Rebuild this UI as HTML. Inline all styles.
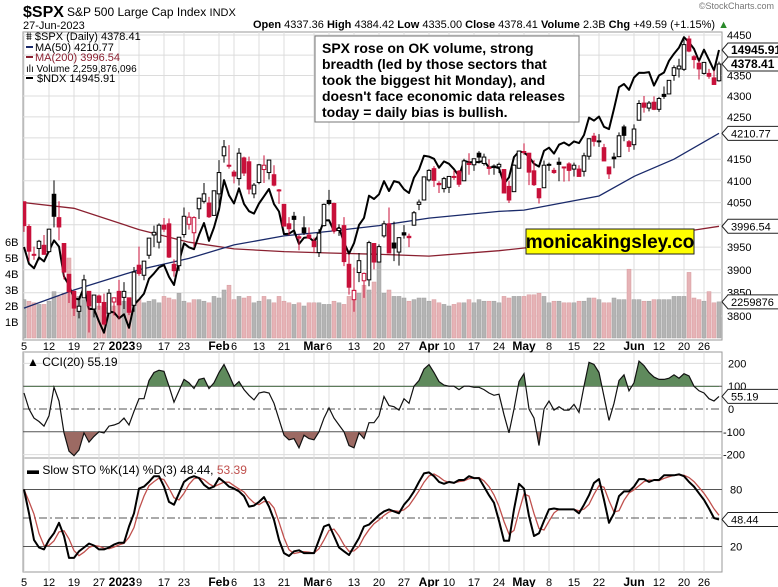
<!DOCTYPE html>
<html><head><meta charset="utf-8"><style>
html,body{margin:0;padding:0;background:#fff;}
svg{display:block;font-family:"Liberation Sans",sans-serif;}
</style></head><body>
<svg id="chart" width="778" height="587" viewBox="0 0 778 587" xmlns="http://www.w3.org/2000/svg">
<defs>
<clipPath id="mainClip"><rect x="23" y="32" width="699" height="308"/></clipPath>
<clipPath id="cciUp"><rect x="23" y="352" width="699" height="35"/></clipPath>
<clipPath id="cciDn"><rect x="23" y="432" width="699" height="26"/></clipPath>
<clipPath id="stoClip"><rect x="23" y="458" width="699" height="114"/></clipPath>
</defs>
<g id="grid"></g>
<g id="vol" clip-path="url(#mainClip)"></g>
<g id="main" clip-path="url(#mainClip)"></g>
<g id="cci"></g>
<g id="sto"></g>
<g id="axes"></g>

<text x="23" y="17" font-size="16" font-weight="bold">$SPX</text>
<text x="67" y="16" font-size="12">S&amp;P 500 Large Cap Index <tspan font-size="11">INDX</tspan></text>
<text x="23" y="29" font-size="11">27-Jun-2023</text>
<text x="729" y="28" font-size="11" text-anchor="end"><tspan font-weight="bold">Open</tspan> 4337.36  <tspan font-weight="bold">High</tspan> 4384.42  <tspan font-weight="bold">Low</tspan> 4335.00  <tspan font-weight="bold">Close</tspan> 4378.41  <tspan font-weight="bold">Volume</tspan> 2.3B  <tspan font-weight="bold">Chg</tspan> +49.59 (+1.15%) <tspan fill="#2a8a2a">▲</tspan></text>
<text x="774" y="9" font-size="9" fill="#777" text-anchor="end">©StockCharts.com</text>

<g font-size="11">
<text x="26" y="40">⩩ $SPX (Daily) 4378.41</text>
<line x1="26" y1="47" x2="33" y2="47" stroke="#1a2a6a" stroke-width="2"/><text x="35" y="51">MA(50) 4210.77</text>
<line x1="26" y1="57" x2="33" y2="57" stroke="#8a2030" stroke-width="2"/><text x="35" y="61" fill="#8a2030">MA(200) 3996.54</text>
<text x="26" y="72" font-size="10">ılı Volume 2,259,876,096</text>
<line x1="26" y1="78" x2="33" y2="78" stroke="#000" stroke-width="2"/><text x="37" y="82">$NDX 14945.91</text>
</g>

<g>
<rect x="315" y="36" width="264" height="86" fill="#fff" stroke="#777"/>
<g font-size="14" font-weight="bold">
<text x="322" y="53">SPX rose on OK volume, strong</text>
<text x="322" y="69">breadth (led by those sectors that</text>
<text x="322" y="85">took the biggest hit Monday), and</text>
<text x="322" y="101">doesn't face economic data releases</text>
<text x="322" y="117">today = daily bias is bullish.</text>
</g></g>
<g>
<rect x="526" y="229" width="168" height="25" fill="#ffff00" stroke="#222"/>
<text x="610" y="248" font-size="19" font-weight="bold" text-anchor="middle">monicakingsley.co</text>
</g>
</svg>
<script>
const NS="http://www.w3.org/2000/svg";
// ---- data ----
const opens=[4052,3996,3934,3947,3954,3940,4069,4016,3958,3890,3853,3810,3839,3853,3815,3843,3829,3806,3830,
3853,3840,3839,3823,3910,3888,3932,3977,3961,3999,4002,3912,3909,3978,4001,3982,4036,4053,4049,4021,
4070,4158,4136,4120,4105,4153,4144,4070,4096,4126,4119,4114,4077,4046,4002,4019,3973,3993,3977,
3963,3938,3998,4055,4048,3987,3998,3912,3835,3894,3876,3878,3958,3917,3975,4002,3959,3939,3982,3974,3999,4046,4056,
4102,4128,4094,4082,4085,4110,4122,4100,4140,4137,4164,4140,4131,4133,4132,4126,4087,4075,4129,
4166,4164,4123,4082,4084,4136,4124,4143,4132,4139,4127,4127,4122,4157,4204,4191,4177,4132,4155,4156,4226,4191,
4184,4242,4283,4271,4285,4268,4304,4305,4350,4366,4365,4440,4396,4380,4355,4355,4344,4337];
const highs=[4052,4001,3951,3966,3977,3991,4101,4053,3958,3890,3854,3839,3889,3853,3845,3846,3848,3858,3840,
3878,3873,3839,3906,3951,3919,3970,3998,4003,4015,4014,3923,3972,4039,4028,4019,4061,4095,4063,4077,
4148,4195,4183,4125,4176,4156,4156,4095,4139,4159,4148,4136,4081,4046,4017,4029,3978,4019,3994,
3971,3990,4048,4079,4050,4001,4017,3934,3905,3937,3894,3964,3959,3956,4009,4039,4007,3972,3999,3980,4031,4057,4110,
4127,4134,4099,4109,4110,4124,4125,4151,4164,4151,4169,4163,4150,4138,4142,4126,4100,4138,4170,
4187,4165,4148,4082,4147,4142,4130,4154,4133,4143,4142,4136,4165,4199,4212,4209,4186,4132,4165,4213,4231,4195,
4232,4290,4300,4288,4299,4298,4323,4339,4375,4391,4439,4448,4400,4387,4383,4366,4363,4384];
const lows=[3984,3919,3922,3921,3933,3937,3994,3965,3879,3828,3800,3795,3839,3765,3797,3813,3780,3806,3801,
3794,3815,3802,3809,3887,3877,3924,3950,3947,3984,3926,3885,3897,3971,3989,3950,4013,4048,4015,4021,
4038,4142,4128,4094,4089,4111,4069,4060,4092,4095,4103,4087,4047,3997,3976,3979,3943,3977,3968,
3939,3928,3996,4044,3980,3975,3908,3846,3809,3873,3839,3864,3901,3917,3971,3936,3919,3909,3969,3950,3998,4033,4056,
4098,4086,4072,4073,4072,4102,4086,4100,4114,4123,4140,4135,4114,4114,4118,4072,4049,4075,4128,
4160,4090,4088,4048,4084,4123,4116,4099,4098,4099,4110,4110,4110,4149,4180,4179,4146,4104,4129,4155,4192,4167,
4172,4241,4260,4263,4266,4262,4293,4305,4337,4345,4361,4407,4367,4340,4352,4342,4328,4335];
const closes=[3998,3941,3933,3963,3934,3990,4019,3995,3895,3852,3817,3821,3878,3822,3845,3829,3783,3849,3839,
3824,3853,3808,3895,3892,3919,3970,3983,3999,3990,3928,3898,3972,4019,4017,4016,4060,4070,4018,4077,
4119,4179,4136,4111,4164,4118,4081,4090,4137,4136,4148,4090,4079,3997,3991,4012,3970,3982,3970,
3951,3981,4046,4048,3986,3992,3918,3862,3855,3920,3892,3960,3917,3951,4002,3937,3948,3971,3977,3971,4027,4051,4109,
4124,4101,4091,4105,4110,4109,4092,4146,4138,4151,4155,4155,4130,4134,4138,4072,4056,4136,4169,
4168,4120,4091,4061,4136,4138,4119,4138,4131,4124,4136,4110,4158,4198,4192,4193,4146,4116,4151,4205,4206,4180,
4221,4282,4273,4283,4268,4294,4299,4338,4369,4373,4426,4410,4389,4366,4382,4348,4328,4378];
const ndx=[11825,11591,11529,11679,11624,11772,11918,11831,11417,11298,11125,11111,11271,10984,10985,10822,10679,10952,10940,
10862,10915,10742,11040,11108,11188,11388,11460,11541,11575,11413,11302,11620,11877,11820,11794,11996,12167,11911,12102,
12361,12804,12574,12452,12680,12447,12339,12304,12452,12560,12669,12443,12334,12008,12013,12060,11867,11955,11962,
11901,12004,12204,12207,12049,12100,11890,11731,11878,12138,12241,12568,12520,12590,12789,12639,12788,12767,12665,12609,12842,12966,13181,
13167,13132,12994,13091,13055,12971,12863,13101,13080,13080,13083,13101,12995,13008,12986,12749,12845,13160,13246,
13233,13164,13055,13011,13258,13306,13214,13354,13389,13341,13407,13380,13509,13792,13742,13810,13641,13604,13939,14299,14354,14254,
14463,14547,14545,14558,14326,14499,14551,14755,14880,14989,15176,15083,14966,14751,14952,14771,14587,14946];
const volumes=[2.4,2.3,2.2,2.1,2.1,2.3,2.9,2.6,2.8,5.0,2.6,2.6,2.4,2.3,1.9,2.0,1.9,1.9,2.0,
2.2,2.3,2.2,2.5,2.4,2.2,2.3,2.4,2.2,2.6,2.5,2.4,2.8,2.3,2.2,2.4,2.4,2.3,2.2,2.6,
2.5,3.0,3.3,2.4,2.6,2.5,2.6,2.2,2.3,2.6,2.4,2.2,2.6,2.3,2.2,2.1,2.2,2.0,2.2,
2.2,2.2,2.1,2.1,2.3,2.2,2.1,2.6,3.0,2.8,3.3,3.0,3.5,5.6,2.8,3.0,2.6,2.6,2.5,2.3,2.4,2.5,2.5,
2.3,2.4,2.2,2.1,2.0,2.1,2.2,2.2,2.4,2.2,2.4,2.3,2.3,2.3,2.2,2.6,2.5,2.6,2.6,
2.6,2.7,2.7,2.8,2.6,2.2,2.3,2.3,2.2,2.2,2.2,2.3,2.3,2.5,2.5,2.4,2.2,2.2,2.5,2.4,2.4,4.3,
2.4,2.4,2.3,2.3,2.4,2.4,2.4,2.4,2.6,2.6,2.6,4.1,2.5,2.4,2.3,2.9,2.2,2.26];
const ma50Idx=[0,10,23,33,42,52,61,71,81,95,100,115,122,130,139];
const ma50Val=[3817,3856,3900,3925,3955,3975,3985,3998,4015,4030,4033,4065,4110,4150,4210.77];
const ma200Idx=[0,10,23,33,42,52,61,71,81,95,110,125,134,139];
const ma200Val=[4050,4037,3989,3961,3946,3940,3937,3934,3930,3942,3960,3978,3988,3996.54];
const cciVals=[70,0,-40,-55,-75,-30,95,35,-105,-185,-205,-180,-105,-145,-120,-100,-105,-75,-70,-62,-40,-70,-10,45,45,125,160,170,165,100,
30,80,130,115,90,130,135,90,115,160,195,150,100,120,85,60,40,70,75,70,25,-45,-115,-135,-130,-170,-115,-130,-135,-100,
-40,5,-40,-70,-100,-160,-170,-105,-130,-60,-60,-30,55,15,10,-5,45,25,100,125,175,195,160,120,105,100,100,85,100,100,
95,95,85,70,60,65,-25,-105,0,120,155,0,-40,-160,0,35,-5,10,-5,-5,20,-15,100,205,195,160,55,-50,25,125,
150,80,115,210,190,160,140,130,130,135,150,135,155,145,100,80,70,45,35,55.19];
const stoK=[80,55,27,19,17,27,34,45,31,8,8,15,19,23,21,17,17,19,22,24,24,41,55,81,83,88,94,94,83,67,
64,76,88,92,94,92,85,81,83,92,88,83,81,78,73,62,63,67,72,62,48,27,13,10,15,16,13,13,13,27,
41,43,31,19,15,11,20,29,41,43,48,53,57,59,57,55,64,70,78,88,97,98,94,88,86,88,87,90,90,94,
92,92,83,74,66,47,26,26,59,86,81,52,31,34,47,59,60,59,59,59,59,55,64,74,87,91,69,45,55,73,
78,78,83,91,91,88,90,90,95,95,95,96,94,88,83,76,69,60,50,48.44];
const tickPrices=[4450,4400,4350,4300,4250,4200,4150,4100,4050,4000,3950,3900,3850,3800];
const cciTicks=[200,100,0,-100,-200];
const stoTicks=[80,20];
const volTicks=[1,2,3,4,5,6];
const dateIdx=[0,5,10,15,19,23,28,32,39,42,47,52,58,61,66,71,76,81,85,90,95,100,105,110,115,122,127,132,136];
const dateLabels=["5","12","19","27","2023","9","17","23","Feb","6","13","21","Mar","6","13","20","27","Apr","10","17","24","May","8","15","22","Jun","12","20","26"];

// ---- scales ----
const X=i=>24+5*i;
const PY=p=>35+(Math.log(4450)-Math.log(p))*1779.6;
const NY=v=>50+(Math.log(14946)-Math.log(v))*841;
const VY=v=>338-v*16;
const CY=v=>409-v*0.228;
const SY=v=>518-(v-50)*0.95;

function mk(parent,tag,attrs){const e=document.createElementNS(NS,tag);for(const k in attrs)e.setAttribute(k,attrs[k]);parent.appendChild(e);return e;}
const G=id=>document.getElementById(id);
const grid=G('grid'),vol=G('vol'),main=G('main'),cci=G('cci'),sto=G('sto'),axes=G('axes');

[[32,340],[352,458],[458,572]].forEach(([a,b])=>{
  const r=mk(grid,'rect',{x:23,y:a,width:699,height:b-a,fill:'#fff',stroke:'#9a9a9a','stroke-width':1});
  
  
});
dateIdx.forEach(i=>{
  [[32,340],[352,458],[458,572]].forEach(([a,b])=>{
    const l=mk(grid,'line',{x1:X(i),x2:X(i),y1:a,y2:b,stroke:'#dcdcdc'});
    
    
  });
});
tickPrices.forEach(p=>{
  const l=mk(grid,'line',{x1:23,x2:722,y1:PY(p),y2:PY(p),stroke:'#dcdcdc'});
  
  
  if(p!==4400&&p!==4200&&p!==4000){
    const t=mk(axes,'text',{x:727,y:PY(p)+4,'font-size':11});t.textContent=p;
    
    
  }
});
volTicks.forEach(v=>{
  const t=mk(axes,'text',{x:5,y:VY(v)+4,'font-size':11});t.textContent=v+'B';
  
  
});
[346,582].forEach(yy=>{
  dateIdx.forEach((i,k)=>{
    const lab=dateLabels[k];const bold=/[A-Za-z]/.test(lab)||lab==='2023';
    const t=mk(axes,'text',{x:X(i)+(lab==='2023'?3:0),y:yy+4,'font-size':bold?12:11,'font-weight':bold?'bold':'normal','text-anchor':'middle'});
    t.textContent=lab;
    
    
  });
});

volumes.forEach((v,i)=>{
  const down=i>0&&closes[i]<closes[i-1];
  const r=mk(vol,'rect',{x:X(i)-2,y:VY(v),width:4,height:338-VY(v),fill:down?'#e6b3b6':'#b4b4b4',stroke:down?'#d89a9e':'#a0a0a0','stroke-width':0.5});
  
  
});

function poly(parent,xs,ys,attrs,name){
  const d=xs.map((x,k)=>(k?'L':'M')+x.toFixed(1)+','+ys[k].toFixed(1)).join('');
  const p=mk(parent,'path',Object.assign({d:d,fill:'none'},attrs));
  
  
  return p;
}
poly(main,ma200Idx.map(X),ma200Val.map(PY),{stroke:'#8a2030','stroke-width':1.3},'ma200-line');
poly(main,ma50Idx.map(X),ma50Val.map(PY),{stroke:'#1a2a6a','stroke-width':1.3},'ma50-line');
poly(main,ndx.map((v,i)=>X(i)),ndx.map(NY),{stroke:'#000','stroke-width':2,'stroke-linejoin':'round'},'ndx-line');
closes.forEach((c,i)=>{
  const o=opens[i];const up=i===0?c>=o:c>=closes[i-1];
  const col=up?'#000':'#c8103a';
  const w=mk(main,'line',{x1:X(i),x2:X(i),y1:PY(highs[i]),y2:PY(lows[i]),stroke:col,'stroke-width':1});
  
  
  const top=PY(Math.max(o,c)),bot=PY(Math.min(o,c));
  const b=mk(main,'rect',{x:X(i)-1.8,y:top,width:3.6,height:Math.max(1,bot-top),fill:c>=o?'#fff':col,stroke:col,'stroke-width':1});
  
  
});

cciTicks.forEach(v=>{
  const solid=(v===100||v===-100);
  const l=mk(cci,'line',{x1:23,x2:722,y1:CY(v),y2:CY(v),stroke:solid?'#555':(v===0?'#555':'#dcdcdc'),'stroke-dasharray':v===0?'8,3,2,3':'none'});
  
  
  const t=mk(axes,'text',{x:v<0?723:728,y:CY(v)+4,'font-size':11});t.textContent=v;
  
  
});
const cx=cciVals.map((v,i)=>X(i)),cyv=cciVals.map(CY);
const pts=cx.map((x,k)=>x.toFixed(1)+','+cyv[k].toFixed(1)).join(' ');
const up=mk(cci,'polygon',{points:X(0)+','+CY(100)+' '+pts+' '+X(cciVals.length-1)+','+CY(100),fill:'#5f8a5c',stroke:'none','clip-path':'url(#cciUp)'});


const dn=mk(cci,'polygon',{points:X(0)+','+CY(-100)+' '+pts+' '+X(cciVals.length-1)+','+CY(-100),fill:'#9c6a63',stroke:'none','clip-path':'url(#cciDn)'});


poly(cci,cx,cyv,{stroke:'#111','stroke-width':1.2},'cci-line');

[80,50,20].forEach(v=>{
  const l=mk(sto,'line',{x1:23,x2:722,y1:SY(v),y2:SY(v),stroke:'#555','stroke-dasharray':v===50?'8,3,2,3':'none'});
  
  
});
stoTicks.forEach(v=>{
  const t=mk(axes,'text',{x:730,y:SY(v)+4,'font-size':11});t.textContent=v;
  
  
});
const stoD=stoK.map((v,i)=>{const s=stoK.slice(Math.max(0,i-2),i+1);return s.reduce((a,b)=>a+b,0)/s.length;});
poly(sto,stoD.map((v,i)=>X(i)),stoD.map(SY),{stroke:'#c0504d','stroke-width':1.3},'sto-d-line');
poly(sto,stoK.map((v,i)=>X(i)),stoK.map(SY),{stroke:'#000','stroke-width':2,'stroke-linejoin':'round'},'sto-k-line');

const l1=mk(axes,'text',{x:27,y:366,'font-size':12});l1.textContent='▲ CCI(20) 55.19';


const l2=mk(axes,'text',{x:27,y:474,'font-size':12});
l2.innerHTML='▬ Slow STO %K(14) %D(3) 48.44, <tspan fill="#c0504d">53.39</tspan>';



function tag(y,txt,bold,name){
  const g=mk(axes,'g',{});
  
  
  mk(g,'path',{d:`M722,${y} L728,${y-7} L780,${y-7} L780,${y+7} L728,${y+7} Z`,fill:'#fff',stroke:'#222'});
  const t=mk(g,'text',{x:731,y:y+4,'font-size':bold?12:11,'font-weight':bold?'bold':'normal'});t.textContent=txt;
}
tag(NY(ndx[ndx.length-1]),'14945.91',true,'ndx-value-tag');
tag(PY(closes[closes.length-1]),'4378.41',true,'price-value-tag');
tag(PY(ma50Val[ma50Val.length-1]),'4210.77',false,'ma50-value-tag');
tag(PY(ma200Val[ma200Val.length-1]),'3996.54',false,'ma200-value-tag');
tag(VY(volumes[volumes.length-1]),'2259876',false,'volume-value-tag');
tag(CY(cciVals[cciVals.length-1]),'55.19',false,'cci-value-tag');
tag(SY(stoK[stoK.length-1]),'48.44',false,'sto-value-tag');
</script>
</body></html>
